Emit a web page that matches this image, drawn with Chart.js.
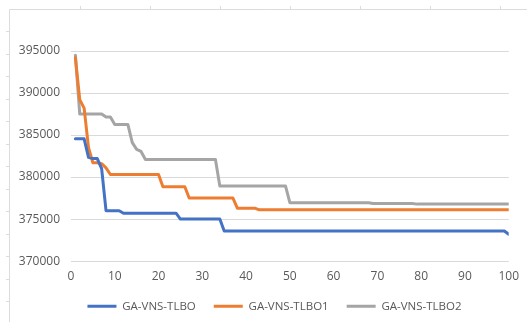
<!DOCTYPE html>
<html>
<head>
<meta charset="utf-8">
<script src="https://cdn.jsdelivr.net/npm/chart.js@4/dist/chart.umd.min.js"></script>
<style>
  html, body { margin: 0; padding: 0; background: #ffffff; }
  #wrap { position: relative; width: 527px; height: 322px; }
</style>
</head>
<body>
<div id="wrap"><canvas id="c" width="527" height="322"></canvas></div>
<script>
// ---- data ----
const seriesNames = ['GA-VNS-TLBO', 'GA-VNS-TLBO1', 'GA-VNS-TLBO2'];
const iterations = Array.from({ length: 100 }, (_, i) => i + 1);

const gaVnsTlbo = [
  384550, 384550, 384550, 382350, 382200, 382200, 381000, 376000, 376000, 376000,
  376000, 375700, 375700, 375700, 375700, 375700, 375700, 375700, 375700, 375700,
  375700, 375700, 375700, 375700, 375000, 375000, 375000, 375000, 375000, 375000,
  375000, 375000, 375000, 375000, 373580, 373580, 373580, 373580, 373580, 373580,
  373580, 373580, 373580, 373580, 373580, 373580, 373580, 373580, 373580, 373580,
  373580, 373580, 373580, 373580, 373580, 373580, 373580, 373580, 373580, 373580,
  373580, 373580, 373580, 373580, 373580, 373580, 373580, 373580, 373580, 373580,
  373580, 373580, 373580, 373580, 373580, 373580, 373580, 373580, 373580, 373580,
  373580, 373580, 373580, 373580, 373580, 373580, 373580, 373580, 373580, 373580,
  373580, 373580, 373580, 373580, 373580, 373580, 373580, 373580, 373580, 373200
];

const gaVnsTlbo1 = [
  394200, 389200, 388200, 383500, 381700, 381700, 381600, 381100, 380300, 380300,
  380300, 380300, 380300, 380300, 380300, 380300, 380300, 380300, 380300, 380300,
  378850, 378850, 378850, 378850, 378850, 378850, 377500, 377500, 377500, 377500,
  377500, 377500, 377500, 377500, 377500, 377500, 377500, 376300, 376300, 376300,
  376300, 376300, 376100, 376100, 376100, 376100, 376100, 376100, 376100, 376100,
  376100, 376100, 376100, 376100, 376100, 376100, 376100, 376100, 376100, 376100,
  376100, 376100, 376100, 376100, 376100, 376100, 376100, 376100, 376100, 376100,
  376100, 376100, 376100, 376100, 376100, 376100, 376100, 376100, 376100, 376100,
  376100, 376100, 376100, 376100, 376100, 376100, 376100, 376100, 376100, 376100,
  376100, 376100, 376100, 376100, 376100, 376100, 376100, 376100, 376100, 376100
];

const gaVnsTlbo2 = [
  394500, 387500, 387500, 387500, 387500, 387500, 387500, 387150, 387150, 386250,
  386250, 386250, 386250, 384100, 383300, 383050, 382100, 382100, 382100, 382100,
  382100, 382100, 382100, 382100, 382100, 382100, 382100, 382100, 382100, 382100,
  382100, 382100, 382100, 378950, 378950, 378950, 378950, 378950, 378950, 378950,
  378950, 378950, 378950, 378950, 378950, 378950, 378950, 378950, 378950, 376950,
  376950, 376950, 376950, 376950, 376950, 376950, 376950, 376950, 376950, 376950,
  376950, 376950, 376950, 376950, 376950, 376950, 376950, 376950, 376850, 376850,
  376850, 376850, 376850, 376850, 376850, 376850, 376850, 376850, 376780, 376780,
  376780, 376780, 376780, 376780, 376780, 376780, 376780, 376780, 376780, 376780,
  376780, 376780, 376780, 376780, 376780, 376780, 376780, 376780, 376780, 376780
];

const xTickLabels = [0, 10, 20, 30, 40, 50, 60, 70, 80, 90, 100];
const yTickLabels = [370000, 375000, 380000, 385000, 390000, 395000];

// ---- styles ----
const colors = ['#4472C4', '#ED7D31', '#A5A5A5'];
const textColor = '#595959';
const gridColor = '#D9D9D9';
const fontFamily = '"Open Sans", "Noto Sans", "Liberation Sans", sans-serif';

function toPoints(values) {
  return values.map((v, i) => ({ x: iterations[i], y: v }));
}

const frame = {
  id: 'frame',
  beforeDraw(chart) {
    const ctx = chart.ctx;
    ctx.save();
    ctx.fillStyle = '#ffffff';
    ctx.fillRect(0, 0, chart.width, chart.height);
    ctx.strokeStyle = '#DCDCDC';
    ctx.lineWidth = 1;
    ctx.beginPath();
    ctx.moveTo(9.5, chart.height);
    ctx.lineTo(9.5, 9.5);
    ctx.lineTo(chart.width, 9.5);
    for (let x = 80; x < chart.width; x += 70) { ctx.moveTo(x + 0.5, 9.5); ctx.lineTo(x + 0.5, 6); }
    for (let y = 31; y < chart.height; y += 22.5) { ctx.moveTo(9.5, Math.round(y) + 0.5); ctx.lineTo(6, Math.round(y) + 0.5); }
    ctx.stroke();
    ctx.restore();
  }
};

const LEGEND_TRIM = 9;
const legendAdjust = {
  id: 'legendAdjust',
  beforeLayout(chart) {
    const lg = chart.legend;
    if (lg && !lg._trimmed) {
      const origFit = lg.fit;
      lg.fit = function () {
        origFit.call(this);
        this.height = Math.max(0, this.height - LEGEND_TRIM);
      };
      lg._trimmed = true;
    }
  },
  afterLayout(chart) {
    const lg = chart.legend;
    if (lg) {
      lg.left += 18; lg.right += 18;
      lg.top -= LEGEND_TRIM; lg.bottom -= LEGEND_TRIM;
    }
  }
};

new Chart(document.getElementById('c'), {
  type: 'line',
  data: {
    datasets: [gaVnsTlbo, gaVnsTlbo1, gaVnsTlbo2].map((vals, i) => ({
      label: seriesNames[i],
      data: toPoints(vals),
      borderColor: colors[i],
      backgroundColor: colors[i],
      borderWidth: 3,
      pointRadius: 0,
      pointHoverRadius: 0,
      tension: 0,
      fill: false,
      borderJoinStyle: 'round',
      borderCapStyle: 'round'
    }))
  },
  options: {
    responsive: false,
    animation: false,
    events: [],
    layout: { padding: { left: 0, right: 14, top: 51, bottom: 0 } },
    plugins: {
      legend: {
        position: 'bottom',
        labels: {
          color: textColor,
          font: { family: fontFamily, size: 11.5 },
          boxWidth: 29,
          boxHeight: 3,
          padding: 18,
          generateLabels(chart) {
            return chart.data.datasets.map((ds, i) => ({
              text: ds.label,
              fillStyle: ds.borderColor,
              strokeStyle: ds.borderColor,
              lineWidth: 0,
              fontColor: textColor,
              hidden: false,
              datasetIndex: i
            }));
          }
        }
      },
      tooltip: { enabled: false },
      title: { display: false }
    },
    scales: {
      x: {
        type: 'linear',
        min: xTickLabels[0],
        max: xTickLabels[xTickLabels.length - 1],
        afterBuildTicks(scale) { scale.ticks = xTickLabels.map(v => ({ value: v })); },
        grid: { display: false, drawTicks: false },
        border: { display: false },
        ticks: {
          color: textColor,
          font: { family: fontFamily, size: 12 },
          padding: 8,
          maxRotation: 0,
          autoSkip: false
        }
      },
      y: {
        min: yTickLabels[0],
        max: yTickLabels[yTickLabels.length - 1],
        afterBuildTicks(scale) { scale.ticks = yTickLabels.map(v => ({ value: v })); },
        afterFit(scale) { scale.width = 71; },
        grid: { color: gridColor, lineWidth: 1, drawTicks: false },
        border: { display: false },
        ticks: {
          color: textColor,
          font: { family: fontFamily, size: 12 },
          padding: 11,
          callback: v => String(v)
        }
      }
    }
  },
  plugins: [frame, legendAdjust]
});
</script>
</body>
</html>
